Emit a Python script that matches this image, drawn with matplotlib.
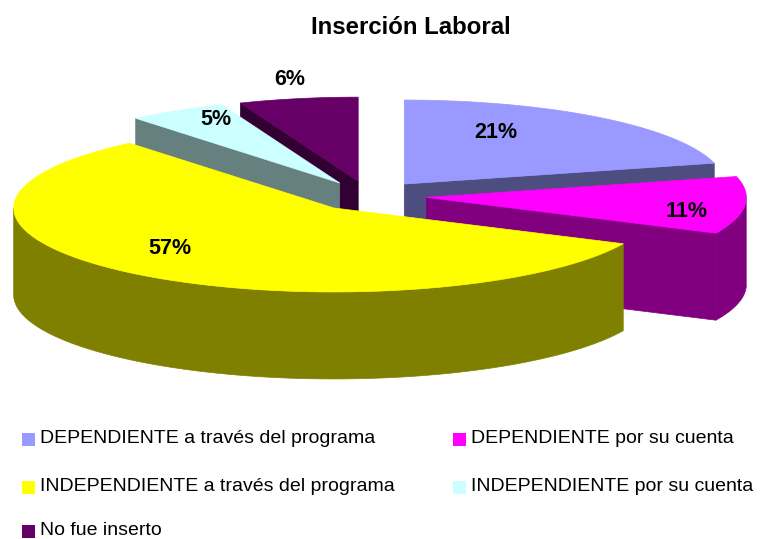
import numpy as np
import matplotlib.pyplot as plt
from matplotlib.colors import to_rgb
from matplotlib.patches import Polygon, Rectangle

plt.rcParams["font.family"] = ["Liberation Sans", "DejaVu Sans"]

# data, clockwise from 12 o'clock
labels = [
    "DEPENDIENTE a través del programa",
    "DEPENDIENTE por su cuenta",
    "INDEPENDIENTE a través del programa",
    "INDEPENDIENTE por su cuenta",
    "No fue inserto",
]
values = [21, 11, 57, 5, 6]
colors = ["#9999FF", "#FF00FF", "#FFFF00", "#CCFFFF", "#660066"]

# where the % labels sit, in pie coords (angle from top, fraction of radius)
label_angles = [25, 102, 227, 333, 350]
label_radii = [0.68, 0.83, 0.70, 0.85, 1.23]

# pseudo 3d pie geometry (pixels)
cx, cy = 369, 196
rx, ry = 320, 84
depth = 87
explode = 0.18
draw_order = [0, 4, 3, 1, 2]


def shade(c, f=0.5):
    r, g, b = to_rgb(c)
    return (r * f, g * f, b * f)


def point(ax0, ay0, th, r=1.0):
    t = np.radians(th)
    return ax0 + r * rx * np.sin(t), ay0 - r * ry * np.cos(t)


def arc(ax0, ay0, t0, t1, dy=0):
    th = np.linspace(t0, t1, max(int(abs(t1 - t0)), 2) + 1)
    x, y = point(ax0, ay0, th)
    return np.column_stack([x, y + dy])


fig = plt.figure(figsize=(7.6, 5.39), dpi=100)
ax = fig.add_axes([0, 0, 1, 1])
ax.set_xlim(0, 760)
ax.set_ylim(539, 0)
ax.axis("off")

total = sum(values)
bounds = np.concatenate([[0], np.cumsum(values) / total * 360])

for i in draw_order:
    t0, t1 = bounds[i], bounds[i + 1]
    mid = (t0 + t1) / 2
    ax0, ay0 = point(cx, cy, mid, explode)
    side = shade(colors[i])

    # radial cut faces that face the viewer
    for th, visible in [(t0, 180 < t0 < 360), (t1, 0 < t1 < 180)]:
        if visible:
            ox, oy = point(ax0, ay0, th)
            face = [(ax0, ay0), (ox, oy), (ox, oy + depth), (ax0, ay0 + depth)]
            ax.add_patch(Polygon(face, closed=True, fc=side, ec=side, lw=0.5))

    # outer rim, front half only
    a, b = max(t0, 90), min(t1, 270)
    if a < b:
        rim = np.vstack([arc(ax0, ay0, a, b), arc(ax0, ay0, b, a, depth)])
        ax.add_patch(Polygon(rim, closed=True, fc=side, ec=side, lw=0.5))
        if a > t0:
            # faint seam where the rim starts to show
            sx, sy = point(ax0, ay0, a)
            ax.plot([sx, sx], [sy, sy + depth], color="#B060B0", lw=0.6)

    # top face
    top = np.vstack([[[ax0, ay0]], arc(ax0, ay0, t0, t1)])
    ax.add_patch(Polygon(top, closed=True, fc=colors[i], ec=colors[i], lw=0.5))

for i in range(len(values)):
    mid = (bounds[i] + bounds[i + 1]) / 2
    ax0, ay0 = point(cx, cy, mid, explode)
    lx, ly = point(ax0, ay0, label_angles[i], label_radii[i])
    ax.text(lx, ly, f"{values[i]}%", ha="center", va="center",
            fontsize=15.5, fontweight="bold", color="black")

ax.text(411, 34, "Inserción Laboral", ha="center", va="baseline",
        fontsize=17.3, fontweight="bold")

# legend, two columns
col_x = [22, 453]
row_y = [443, 491, 535]
for i, lab in enumerate(labels):
    x = col_x[i % 2]
    y = row_y[i // 2]
    ax.add_patch(Rectangle((x, y - 10), 12.5, 12.5, fc=colors[i], ec="none"))
    ax.text(x + 18, y, lab, ha="left", va="baseline", fontsize=14)

fig.savefig("out.png", dpi=100)
